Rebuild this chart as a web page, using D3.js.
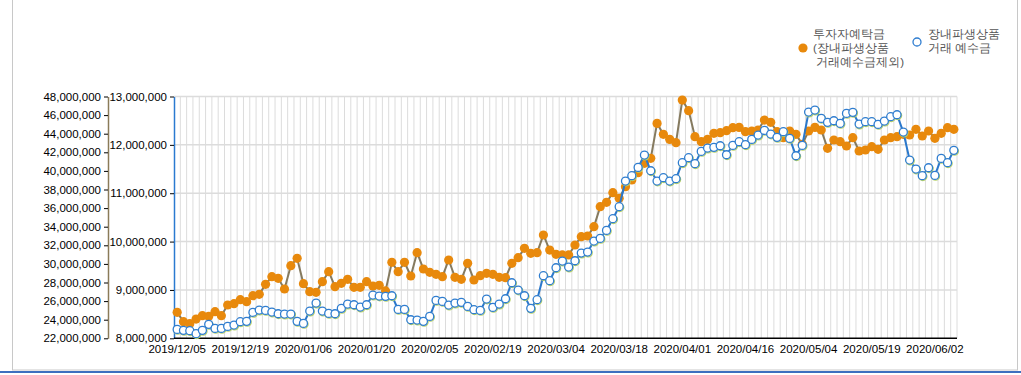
<!DOCTYPE html>
<html>
<head>
<meta charset="utf-8">
<script src="https://cdn.jsdelivr.net/npm/d3@7"></script>
<style>
  body { margin: 0; background: #fff; }
  .chart text { font-family: "Liberation Sans", Arial, sans-serif; }
</style>
</head>
<body>
<div class="chart"></div>
<script>
// 투자자예탁금 (장내파생상품 거래예수금제외), left outer axis
var deposits = [
	24790000, 23790000, 23570000, 24070000, 24430000, 24360000, 24860000, 24430000, 25580000, 25720000,
	26150000, 25940000, 26580000, 26730000, 27800000, 28630000, 28450000, 27300000, 29810000, 30600000,
	27870000, 27010000, 26940000, 28090000, 29160000, 27550000, 27910000, 28340000, 27480000, 27480000,
	28090000, 27620000, 27700000, 27090000, 30170000, 29160000, 30170000, 28700000, 31210000, 29450000,
	29090000, 28880000, 28630000, 30420000, 28560000, 28340000, 30060000, 28270000, 28730000, 28990000,
	28880000, 28560000, 28520000, 30060000, 30670000, 31670000, 31140000, 31210000, 33110000, 31490000,
	31030000, 30960000, 30960000, 32030000, 32930000, 33000000, 34000000, 36150000, 36620000, 37660000,
	37050000, 38300000, 39020000, 39810000, 40810000, 41350000, 45110000, 43930000, 43390000, 43030000,
	47620000, 46480000, 43680000, 43140000, 43390000, 44040000, 44110000, 44330000, 44650000, 44680000,
	44220000, 44290000, 44400000, 45470000, 45220000, 44220000, 43570000, 44290000, 43930000, 42860000,
	44290000, 44680000, 44400000, 42430000, 43320000, 43140000, 42680000, 43570000, 42140000, 42250000,
	42600000, 42320000, 43320000, 43570000, 43680000, 43930000, 43860000, 44470000, 43750000, 44290000,
	43500000, 44040000, 44650000, 44470000
];

// 장내파생상품 거래 예수금, inner axis
var futures = [
	8184000, 8164000, 8157000, 8095000, 8164000, 8288000, 8205000, 8205000, 8246000, 8274000,
	8343000, 8350000, 8536000, 8584000, 8577000, 8543000, 8508000, 8501000, 8501000, 8350000,
	8308000, 8563000, 8729000, 8563000, 8515000, 8508000, 8619000, 8708000, 8694000, 8646000,
	8694000, 8894000, 8874000, 8867000, 8880000, 8598000, 8598000, 8384000, 8377000, 8350000,
	8453000, 8784000, 8763000, 8687000, 8729000, 8743000, 8660000, 8591000, 8577000, 8812000,
	8639000, 8708000, 8818000, 9149000, 8998000, 8880000, 8619000, 8798000, 9294000, 9191000,
	9459000, 9597000, 9473000, 9604000, 9763000, 9783000, 10011000, 10066000, 10231000, 10473000,
	10721000, 11252000, 11362000, 11534000, 11789000, 11465000, 11252000, 11321000, 11252000, 11300000,
	11631000, 11734000, 11610000, 11865000, 11934000, 11948000, 11982000, 11796000, 11989000, 12065000,
	12003000, 12113000, 12203000, 12299000, 12224000, 12155000, 12272000, 12134000, 11775000, 11989000,
	12678000, 12720000, 12547000, 12465000, 12499000, 12444000, 12651000, 12672000, 12430000, 12479000,
	12479000, 12423000, 12492000, 12582000, 12623000, 12265000, 11686000, 11500000, 11362000, 11527000,
	11369000, 11720000, 11631000, 11886000
];

// every 10th trading day gets a label
var tickLabels = ["2019/12/05", "2019/12/19", "2020/01/06", "2020/01/20", "2020/02/05", "2020/02/19",
	"2020/03/04", "2020/03/18", "2020/04/01", "2020/04/16", "2020/05/04", "2020/05/19", "2020/06/02"];

var leftTicks = d3.range(22000000, 48000001, 2000000);
var innerTicks = d3.range(8000000, 13000001, 1000000);

var legend1 = ["투자자예탁금", "(장내파생상품", " 거래예수금제외)"];
var legend2 = ["장내파생상품", "거래 예수금"];

(function () {
	var W = 1021, H = 375;
	var left = 174, right = 957, top = 96.5, bottom = 338.3;

	var svg = d3.select(".chart").append("svg")
		.attr("width", W).attr("height", H);

	// frame
	svg.append("rect")
		.attr("x", 12.5).attr("y", -2).attr("width", 1005).attr("height", 372)
		.attr("fill", "none").attr("stroke", "#c8c8c8");
	svg.append("line")
		.attr("x1", 0).attr("x2", W).attr("y1", 372).attr("y2", 372)
		.attr("stroke", "#3d6fbf").attr("stroke-width", 2);

	var idx = d3.range(deposits.length);
	var x = d3.scaleBand().domain(idx).range([left, right]);
	var cx = function (i) { return x(i) + x.bandwidth() / 2; };

	var yL = d3.scaleLinear().domain([22000000, 48000000]).range([bottom, top]);
	var yR = d3.scaleLinear().domain([8000000, 13000000]).range([bottom, top]);

	// grid
	var grid = svg.append("g");
	grid.selectAll("line.v")
		.data(idx.slice(1).concat([deposits.length]))
		.enter().append("line")
		.attr("x1", function (i) { return i < deposits.length ? x(i) : right; })
		.attr("x2", function (i) { return i < deposits.length ? x(i) : right; })
		.attr("y1", top).attr("y2", bottom)
		.attr("stroke", "#dcdcdc").attr("stroke-width", 1);
	grid.selectAll("line.h")
		.data(innerTicks.slice(1))
		.enter().append("line")
		.attr("x1", left).attr("x2", right)
		.attr("y1", yR).attr("y2", yR)
		.attr("stroke", "#dcdcdc").attr("stroke-width", 1.5);

	// left outer axis
	var gL = svg.append("g").attr("transform", "translate(108,0)")
		.call(d3.axisLeft(yL).tickValues(leftTicks).tickFormat(d3.format(",")).tickSize(4).tickSizeOuter(0));
	gL.select(".domain").attr("stroke", "#8a7b58").attr("stroke-width", 1.5);
	gL.selectAll("text").attr("font-size", 11.5).attr("fill", "#000").attr("x", -7);

	// inner axis
	var gR = svg.append("g").attr("transform", "translate(" + left + ",0)")
		.call(d3.axisLeft(yR).tickValues(innerTicks).tickFormat(d3.format(",")).tickSize(4).tickSizeOuter(0));
	gR.select(".domain").attr("stroke", "#2a7ad0").attr("stroke-width", 1.5);
	gR.selectAll("text").attr("font-size", 11.5).attr("fill", "#000").attr("x", -7);

	// bottom axis
	svg.append("line")
		.attr("x1", left).attr("x2", right).attr("y1", bottom).attr("y2", bottom)
		.attr("stroke", "#000").attr("stroke-width", 1.5);
	svg.selectAll("text.xl")
		.data(tickLabels)
		.enter().append("text")
		.attr("x", function (d, k) { return cx(k * 10); })
		.attr("y", 353)
		.attr("text-anchor", "middle")
		.attr("font-size", 11.5)
		.text(function (d) { return d; });

	// 투자자예탁금 series
	var line1 = d3.line().x(function (d, i) { return cx(i); }).y(function (d) { return yL(d); });
	svg.append("path").datum(deposits)
		.attr("d", line1).attr("fill", "none")
		.attr("stroke", "#857a5f").attr("stroke-width", 2);
	svg.append("g").selectAll("circle")
		.data(deposits).enter().append("circle")
		.attr("cx", function (d, i) { return cx(i); })
		.attr("cy", yL)
		.attr("r", 4.6)
		.attr("fill", "#e8890c");

	// 장내파생상품 거래 예수금 series
	var line2 = d3.line().x(function (d, i) { return cx(i); }).y(function (d) { return yR(d); });
	svg.append("path").datum(futures)
		.attr("d", line2).attr("fill", "none")
		.attr("stroke", "#2a78cc").attr("stroke-width", 2);
	var pts = svg.append("g");
	pts.selectAll("circle.s")
		.data(futures).enter().append("circle")
		.attr("cx", function (d, i) { return cx(i) + 0.6; })
		.attr("cy", function (d) { return yR(d) + 0.8; })
		.attr("r", 4)
		.attr("fill", "none").attr("stroke", "#b9d36a").attr("stroke-width", 1.3);
	pts.selectAll("circle.p")
		.data(futures).enter().append("circle")
		.attr("cx", function (d, i) { return cx(i); })
		.attr("cy", yR)
		.attr("r", 4)
		.attr("fill", "#fff").attr("stroke", "#2f7dd0").attr("stroke-width", 1.3);

	// legend
	var lg = svg.append("g").style("font-family", "'Noto Sans CJK KR', sans-serif");
	lg.append("circle").attr("cx", 803).attr("cy", 48).attr("r", 4.6).attr("fill", "#e8890c");
	lg.selectAll("text.l1").data(legend1).enter().append("text")
		.attr("x", 813).attr("y", function (d, i) { return 34 + i * 14; })
		.attr("dy", "0.35em").attr("font-size", 11.5).attr("fill", "#555")
		.attr("xml:space", "preserve").style("white-space", "pre")
		.text(function (d) { return d; });
	lg.append("circle").attr("cx", 917).attr("cy", 42).attr("r", 4)
		.attr("fill", "#fff").attr("stroke", "#2f7dd0").attr("stroke-width", 1.3);
	lg.selectAll("text.l2").data(legend2).enter().append("text")
		.attr("x", 928).attr("y", function (d, i) { return 34 + i * 14; })
		.attr("dy", "0.35em").attr("font-size", 11.5).attr("fill", "#555")
		.style("white-space", "pre")
		.text(function (d) { return d; });
})();
</script>
</body>
</html>
